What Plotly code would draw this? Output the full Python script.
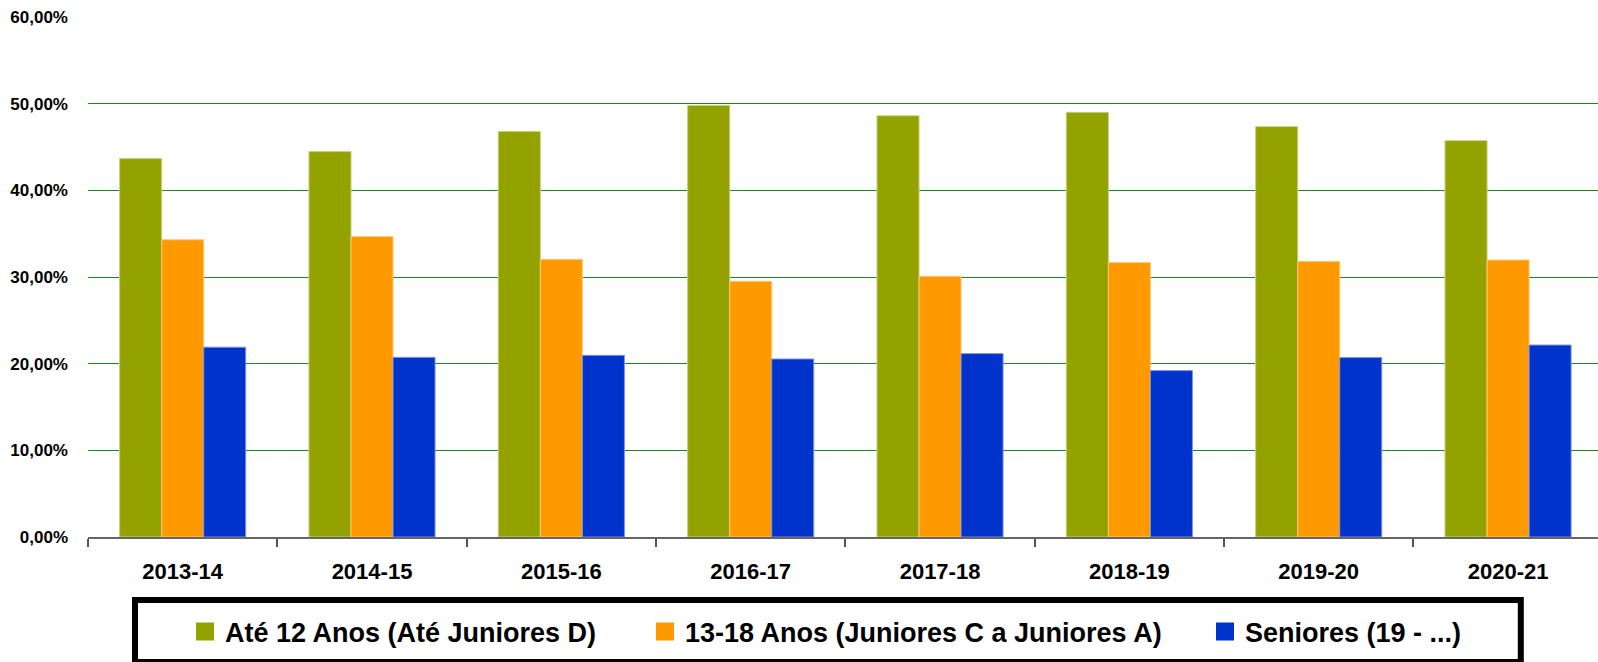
import plotly.graph_objects as go

seasons = ["2013-14", "2014-15", "2015-16", "2016-17", "2017-18", "2018-19", "2019-20", "2020-21"]
ate12 = [43.66, 44.47, 46.80, 49.80, 48.60, 49.00, 47.35, 45.73]
j1318 = [34.30, 34.66, 32.04, 29.50, 30.08, 31.66, 31.80, 31.96]
seniores = [21.90, 20.73, 20.96, 20.54, 21.16, 19.20, 20.70, 22.15]

names = ["Até 12 Anos (Até Juniores D)", "13-18 Anos (Juniores C a Juniores A)", "Seniores (19 - ...)"]
colors = ["#94A200", "#FF9900", "#0033CC"]
edge_colors = ["#C5CE7A", "#FFC877", "#7F93E3"]
y_tickvals = [0, 10, 20, 30, 40, 50, 60]
y_ticktext = ["0,00%", "10,00%", "20,00%", "30,00%", "40,00%", "50,00%", "60,00%"]

FONT = "Liberation Sans, Arial, sans-serif"

W, H = 1598, 662
ML, MR, MT, MB = 88, 0, 17, 125
PW, PH = W - ML - MR, H - MT - MB


def px_x(p):
    return (p - ML) / PW


def px_y(p):
    return (H - MB - p) / PH


fig = go.Figure()
series = [ate12, j1318, seniores]
for vals, c, ec, n in zip(series, colors, edge_colors, names):
    fig.add_trace(go.Bar(x=seasons, y=vals, name=n, marker=dict(color=c, line=dict(color=ec, width=1)),
                         showlegend=False))

legend_ids = ["legend", "legend2", "legend3"]
legend_x_px = [185, 645, 1205]
for n, c, lid in zip(names, colors, legend_ids):
    fig.add_trace(go.Scatter(x=[None], y=[None], mode="markers", name=n, legend=lid,
                             marker=dict(symbol="square", size=16, color=c, line=dict(color=c, width=2))))

leg_common = dict(orientation="h", yanchor="middle", xanchor="left",
                  xref="container", yref="container", y=1 - 632 / H,
                  bgcolor="rgba(0,0,0,0)", borderwidth=0,
                  font=dict(family=FONT, size=27, color="black", weight="bold"))

layout_legends = {}
for lid, lx in zip(legend_ids, legend_x_px):
    layout_legends[lid] = dict(x=lx / W, **leg_common)

fig.update_layout(
    width=W, height=H,
    margin=dict(l=ML, r=MR, t=MT, b=MB, pad=0, autoexpand=False),
    paper_bgcolor="white", plot_bgcolor="white",
    barmode="group", bargap=0.334, bargroupgap=0,
    xaxis=dict(type="category", categoryorder="array", categoryarray=seasons,
               range=[-0.5, 7.475], showgrid=False, zeroline=False, automargin=False,
               showline=True, linecolor="#666666", linewidth=1.5,
               ticks="outside", tickson="boundaries", ticklen=8, tickcolor="#555555", tickwidth=1.5,
               tickfont=dict(family=FONT, size=22, color="black", weight="bold"),
               ticklabelstandoff=14),
    yaxis=dict(range=[0, 60], tickvals=y_tickvals, ticktext=y_ticktext, automargin=False,
               showgrid=True, gridcolor="#1A8A1A", gridwidth=1, zeroline=False, showline=False,
               ticks="", tickfont=dict(family=FONT, size=17, color="black", weight="bold"),
               ticklabelstandoff=19),
    shapes=[dict(type="rect", xref="paper", yref="paper",
                 x0=px_x(135), x1=px_x(1520.8), y0=px_y(600), y1=px_y(662),
                 line=dict(color="black", width=6), fillcolor="rgba(0,0,0,0)", layer="above")],
    **layout_legends,
)

fig.write_html("out.html", config={"displayModeBar": False},
               post_script="document.body.style.margin='0';document.body.style.overflow='hidden';")
